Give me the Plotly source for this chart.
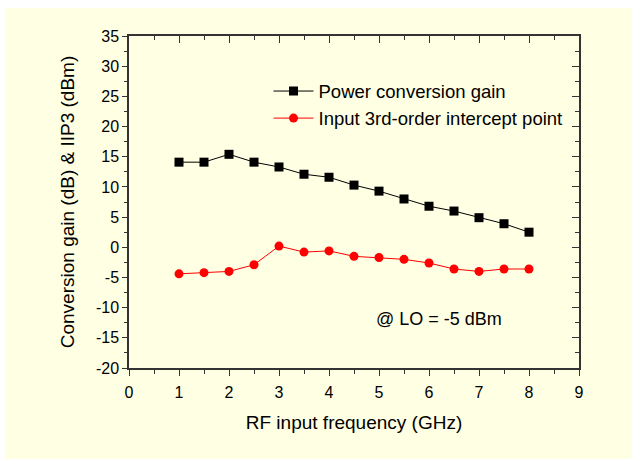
import plotly.graph_objects as go

freq = [1, 1.5, 2, 2.5, 3, 3.5, 4, 4.5, 5, 5.5, 6, 6.5, 7, 7.5, 8]
gain = [14.1, 14.1, 15.4, 14.1, 13.3, 12.1, 11.6, 10.3, 9.3, 8.0, 6.8, 6.0, 4.9, 3.9, 2.5]
iip3 = [-4.4, -4.2, -4.0, -2.9, 0.2, -0.8, -0.6, -1.5, -1.7, -2.0, -2.6, -3.6, -4.0, -3.6, -3.6]
series_names = ["Power conversion gain", "Input 3rd-order intercept point"]
y_tickvals = [-20, -15, -10, -5, 0, 5, 10, 15, 20, 25, 30, 35]
y_ticktext = ["-20", "-15", "-10", "-5", "0", "5", "10", "15", "20", "25", "30", "35"]

BG = "#FFFFE3"
FONT = "Liberation Sans, Arial, sans-serif"
AX = "#333333"

fig = go.Figure()
fig.add_trace(go.Scatter(x=freq, y=gain, mode="lines+markers", name=series_names[0],
                         line=dict(color="black", width=1),
                         marker=dict(symbol="square", size=9, color="black")))
fig.add_trace(go.Scatter(x=freq, y=iip3, mode="lines+markers", name=series_names[1],
                         line=dict(color="#FF0000", width=1),
                         marker=dict(symbol="circle", size=9, color="#FF0000")))
# invisible trace to activate mirror axes
fig.add_trace(go.Scatter(x=[0], y=[0], xaxis="x2", yaxis="y2", mode="markers",
                         marker=dict(opacity=0), showlegend=False, hoverinfo="skip"))

common = dict(showgrid=False, zeroline=False, showline=True, linecolor=AX, linewidth=1.5,
              tickcolor=AX, tickwidth=1.2)

fig.update_layout(
    width=632, height=459,
    margin=dict(l=129, r=53, t=36, b=91),
    paper_bgcolor="white", plot_bgcolor=BG,
    font=dict(family=FONT, size=16, color="black"),
    showlegend=True,
    legend=dict(x=0.31, y=0.89, xanchor="left", yanchor="top", bgcolor="rgba(0,0,0,0)",
                font=dict(size=18.5), tracegroupgap=0, itemwidth=40),
    xaxis=dict(range=[0, 9], dtick=1, ticks="outside", ticklen=6, ticklabelstandoff=3,
               minor=dict(dtick=0.5, ticks="outside", ticklen=4, tickcolor=AX),
               title=dict(text="RF input frequency (GHz)", standoff=16),
               tickfont=dict(size=16), **common),
    yaxis=dict(range=[-20, 35], tickvals=y_tickvals, ticktext=y_ticktext,
               ticks="outside", ticklen=5,
               minor=dict(dtick=2.5, ticks="outside", ticklen=3, tickcolor=AX),
               title=dict(text="Conversion gain (dB) & IIP3 (dBm)", standoff=16),
               tickfont=dict(size=16), **common),
    xaxis2=dict(range=[0, 9], overlaying="x", side="top", dtick=1, ticks="inside", ticklen=7,
                minor=dict(dtick=0.5, ticks="inside", ticklen=4, tickcolor=AX),
                showticklabels=False, anchor="y2", **common),
    yaxis2=dict(range=[-20, 35], overlaying="y", side="right", dtick=5, ticks="inside", ticklen=7,
                minor=dict(dtick=2.5, ticks="inside", ticklen=4, tickcolor=AX),
                showticklabels=False, anchor="x2", **common),
    shapes=[dict(type="rect", xref="paper", yref="paper", layer="below",
                 x0=(6 - 129) / 450, x1=(640 - 129) / 450,
                 y0=(368 - 470) / 332, y1=(368 - 8) / 332,
                 fillcolor=BG, line=dict(width=0))],
    annotations=[dict(x=6.2, y=-11.9, xref="x", yref="y", text="@ LO = -5 dBm",
                      showarrow=False, font=dict(size=18))],
)

fig.write_html("out.html")
